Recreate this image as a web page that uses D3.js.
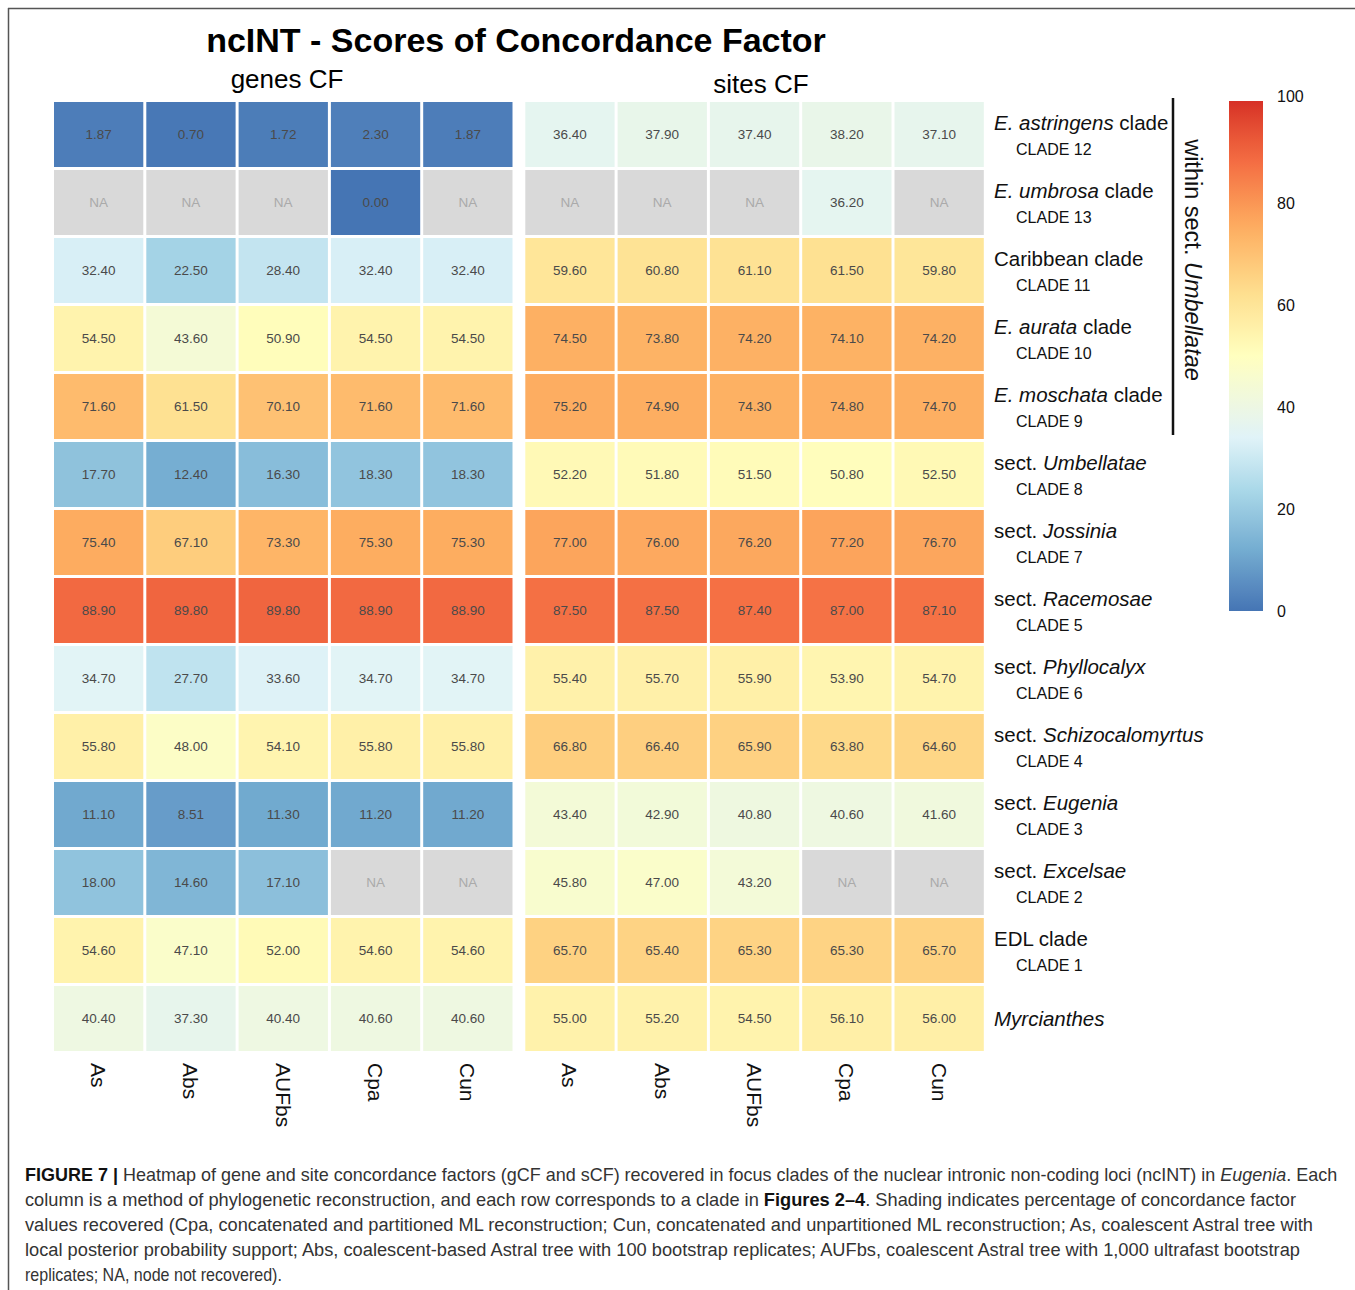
<!DOCTYPE html>
<html><head><meta charset="utf-8">
<script src="https://cdn.jsdelivr.net/npm/d3@7"></script>
<style>body{margin:0;background:#fff}svg{display:block}text{font-family:"Liberation Sans",Arial,Helvetica,sans-serif}</style>
</head><body>
<svg id="c" width="1355" height="1290"></svg>
<script>
const methods = ["As","Abs","AUFbs","Cpa","Cun"];
const rowLabels = [
  [["E. astringens",1],[" clade",0]],
  [["E. umbrosa",1],[" clade",0]],
  [["Caribbean clade",0]],
  [["E. aurata",1],[" clade",0]],
  [["E. moschata",1],[" clade",0]],
  [["sect. ",0],["Umbellatae",1]],
  [["sect. ",0],["Jossinia",1]],
  [["sect. ",0],["Racemosae",1]],
  [["sect. ",0],["Phyllocalyx",1]],
  [["sect. ",0],["Schizocalomyrtus",1]],
  [["sect. ",0],["Eugenia",1]],
  [["sect. ",0],["Excelsae",1]],
  [["EDL clade",0]],
  [["Myrcianthes",1]]
];
const cladeLabels = ["CLADE 12","CLADE 13","CLADE 11","CLADE 10","CLADE 9","CLADE 8","CLADE 7","CLADE 5","CLADE 6","CLADE 4","CLADE 3","CLADE 2","CLADE 1",""];
const genesCF = [
  [1.87,0.70,1.72,2.30,1.87],
  [null,null,null,0.00,null],
  [32.40,22.50,28.40,32.40,32.40],
  [54.50,43.60,50.90,54.50,54.50],
  [71.60,61.50,70.10,71.60,71.60],
  [17.70,12.40,16.30,18.30,18.30],
  [75.40,67.10,73.30,75.30,75.30],
  [88.90,89.80,89.80,88.90,88.90],
  [34.70,27.70,33.60,34.70,34.70],
  [55.80,48.00,54.10,55.80,55.80],
  [11.10,8.51,11.30,11.20,11.20],
  [18.00,14.60,17.10,null,null],
  [54.60,47.10,52.00,54.60,54.60],
  [40.40,37.30,40.40,40.60,40.60]
];
const sitesCF = [
  [36.40,37.90,37.40,38.20,37.10],
  [null,null,null,36.20,null],
  [59.60,60.80,61.10,61.50,59.80],
  [74.50,73.80,74.20,74.10,74.20],
  [75.20,74.90,74.30,74.80,74.70],
  [52.20,51.80,51.50,50.80,52.50],
  [77.00,76.00,76.20,77.20,76.70],
  [87.50,87.50,87.40,87.00,87.10],
  [55.40,55.70,55.90,53.90,54.70],
  [66.80,66.40,65.90,63.80,64.60],
  [43.40,42.90,40.80,40.60,41.60],
  [45.80,47.00,43.20,null,null],
  [65.70,65.40,65.30,65.30,65.70],
  [55.00,55.20,54.50,56.10,56.00]
];
const legendTicks = [0,20,40,60,80,100];
const paletteColors = ["#4575b4","#74add1","#abd9e9","#e0f3f8","#ffffbf","#fee090","#fdae61","#f46d43","#d73027"];
const paletteStops = [0,12,24,34,50,62,75,88,100];
const titleText = "ncINT - Scores of Concordance Factor";
const panelTitles = ["genes CF","sites CF"];
const groupLabel = [["within sect. ",0],["Umbellatae",1]];
const captionLines = [
  [["FIGURE 7 | ","b"],["Heatmap of gene and site concordance factors (gCF and sCF) recovered in focus clades of the nuclear intronic non-coding loci (ncINT) in ",""],["Eugenia","i"],[". Each",""]],
  [["column is a method of phylogenetic reconstruction, and each row corresponds to a clade in ",""],["Figures 2–4","b"],[". Shading indicates percentage of concordance factor",""]],
  [["values recovered (Cpa, concatenated and partitioned ML reconstruction; Cun, concatenated and unpartitioned ML reconstruction; As, coalescent Astral tree with",""]],
  [["local posterior probability support; Abs, coalescent-based Astral tree with 100 bootstrap replicates; AUFbs, coalescent Astral tree with 1,000 ultrafast bootstrap",""]],
  [["replicates; NA, node not recovered).",""]]
];

const svg = d3.select("#c");
// frame
svg.append("line").attr("x1",8).attr("x2",1355).attr("y1",8.5).attr("y2",8.5).attr("stroke","#555").attr("stroke-width",1.5);
svg.append("line").attr("x1",8.5).attr("x2",8.5).attr("y1",8).attr("y2",1290).attr("stroke","#555").attr("stroke-width",1.5);

const color = d3.scaleLinear().domain(paletteStops).range(paletteColors).interpolate(d3.interpolateLab);
const y = d3.scaleBand().domain(d3.range(rowLabels.length)).range([102,1054]);
const xG = d3.scaleBand().domain(methods).range([54,515.5]);
const xS = d3.scaleBand().domain(methods).range([525.3,986.8]);
const fmt = d3.format(".2f");
const gap = 3;

function panel(x, data){
  const g = svg.append("g");
  const cells = [];
  data.forEach((row,r)=>row.forEach((v,c)=>cells.push({r,c,v})));
  g.selectAll("rect").data(cells).join("rect")
    .attr("x",d=>x(methods[d.c])).attr("y",d=>y(d.r))
    .attr("width",x.bandwidth()-gap).attr("height",y.bandwidth()-gap)
    .attr("fill",d=>d.v==null?"#d9d9d9":color(d.v));
  g.selectAll("text").data(cells).join("text")
    .attr("x",d=>x(methods[d.c])+(x.bandwidth()-gap)/2)
    .attr("y",d=>y(d.r)+(y.bandwidth()-gap)/2)
    .attr("text-anchor","middle").attr("dominant-baseline","central")
    .attr("font-size",13.5)
    .attr("fill",d=>d.v==null?"#aaaaaa":"#4a4a4a")
    .text(d=>d.v==null?"NA":fmt(d.v));
  g.selectAll("text.xl").data(methods).join("text").attr("class","xl")
    .attr("transform",m=>`translate(${x(m)+(x.bandwidth()-gap)/2},1063) rotate(90)`)
    .attr("dominant-baseline","central").attr("font-size",21).attr("fill","#111")
    .text(m=>m);
}
panel(xG, genesCF);
panel(xS, sitesCF);

// titles
svg.append("text").attr("x",516).attr("y",52).attr("text-anchor","middle").attr("font-size",34).attr("font-weight","bold").text(titleText);
svg.append("text").attr("x",287).attr("y",88).attr("text-anchor","middle").attr("font-size",26).text(panelTitles[0]);
svg.append("text").attr("x",761).attr("y",93).attr("text-anchor","middle").attr("font-size",26).text(panelTitles[1]);

// row labels
rowLabels.forEach((parts,r)=>{
  const cy = y(r)+(y.bandwidth()-gap)/2;
  const single = cladeLabels[r]==="";
  const t = svg.append("text").attr("x",994).attr("y",single?cy+7:cy-5).attr("font-size",20.5).attr("fill","#111");
  parts.forEach(p=>t.append("tspan").attr("font-style",p[1]?"italic":"normal").text(p[0]));
  if(!single) svg.append("text").attr("x",1016).attr("y",cy+20).attr("font-size",16).attr("fill","#111").text(cladeLabels[r]);
});

// group bracket
svg.append("line").attr("x1",1173).attr("x2",1173).attr("y1",98).attr("y2",435).attr("stroke","#111").attr("stroke-width",2.5);
const gt = svg.append("text").attr("transform","translate(1193,260) rotate(90)").attr("text-anchor","middle").attr("dominant-baseline","central").attr("font-size",23.5).attr("fill","#111");
groupLabel.forEach(p=>gt.append("tspan").attr("font-style",p[1]?"italic":"normal").text(p[0]));

// colorbar
const ly = d3.scaleLinear().domain([0,100]).range([611,101]);
const defs = svg.append("defs");
const grad = defs.append("linearGradient").attr("id","cb").attr("x1",0).attr("x2",0).attr("y1",1).attr("y2",0);
d3.range(0,101,2).forEach(v=>grad.append("stop").attr("offset",v/100).attr("stop-color",color(v)));
svg.append("rect").attr("x",1229).attr("y",ly(100)).attr("width",34).attr("height",ly(0)-ly(100)).attr("fill","url(#cb)");
const ax = svg.append("g").attr("transform","translate(1263,0)").call(d3.axisRight(ly).tickValues(legendTicks).tickSize(0).tickPadding(14));
ax.select(".domain").remove();
ax.selectAll("text").attr("font-size",16).attr("fill","#111").attr("font-family","Liberation Sans,Arial,sans-serif");
ax.selectAll(".tick").filter(d=>d===100).select("text").attr("dy","0.05em");

// caption
const capTargets = [1313,1272,1288,1277,257];
captionLines.forEach((parts,i)=>{
  const t = svg.append("text").attr("x",0).attr("y",0).attr("font-size",18).attr("fill","#333");
  parts.forEach(p=>{
    const s = t.append("tspan").text(p[0]);
    if(p[1]==="b") s.attr("font-weight","bold").attr("fill","#111");
    if(p[1]==="i") s.attr("font-style","italic");
  });
  const w = t.node().getComputedTextLength();
  t.attr("transform",`translate(25,${1181+i*25}) scale(${capTargets[i]/w},1)`);
});
</script>
</body></html>
